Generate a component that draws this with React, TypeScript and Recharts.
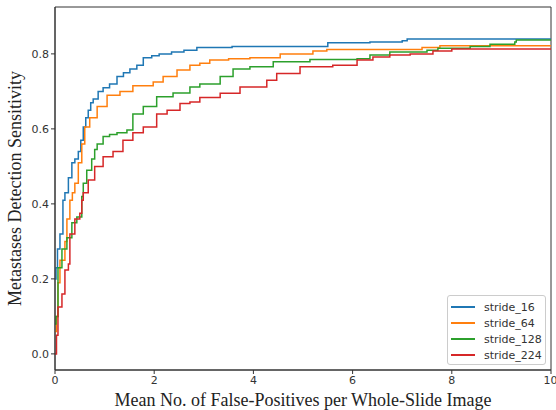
import React from 'react';
import { LineChart, Line, XAxis, YAxis, Label, ReferenceArea } from 'recharts';

const xTicks = [0, 2, 4, 6, 8, 10];
const yTicks = [0, 0.2, 0.4, 0.6, 0.8];
const yDomain = [-0.043, 0.925];

const s16X = [0, 0.02, 0.05, 0.1, 0.16, 0.2, 0.27, 0.34, 0.4, 0.47, 0.52, 0.57, 0.62, 0.67, 0.72, 0.77, 0.87, 0.97, 1.1, 1.25, 1.38, 1.51, 1.65, 1.78, 1.95, 2.1, 2.35, 2.6, 2.86, 3.57, 5.5, 6.35, 7.0, 7.1, 10];
const s16Y = [0.2, 0.23, 0.28, 0.32, 0.41, 0.43, 0.47, 0.51, 0.52, 0.54, 0.57, 0.605, 0.63, 0.65, 0.67, 0.68, 0.7, 0.71, 0.72, 0.74, 0.75, 0.76, 0.77, 0.79, 0.795, 0.8, 0.805, 0.81, 0.817, 0.82, 0.83, 0.832, 0.835, 0.84, 0.84];

const s64X = [0, 0.03, 0.06, 0.1, 0.2, 0.24, 0.3, 0.35, 0.4, 0.47, 0.54, 0.6, 0.7, 0.85, 1.05, 1.31, 1.57, 1.98, 2.18, 2.46, 2.72, 2.92, 3.12, 3.5, 3.93, 4.54, 5.2, 5.48, 7.4, 7.76, 10];
const s64Y = [0.06, 0.1, 0.19, 0.25, 0.3, 0.36, 0.41, 0.43, 0.455, 0.51, 0.56, 0.605, 0.63, 0.66, 0.69, 0.7, 0.715, 0.725, 0.74, 0.757, 0.77, 0.775, 0.784, 0.787, 0.79, 0.8, 0.808, 0.812, 0.817, 0.822, 0.822];

const s128X = [0, 0.02, 0.06, 0.14, 0.24, 0.34, 0.44, 0.54, 0.57, 0.64, 0.74, 0.8, 0.85, 0.97, 1.1, 1.25, 1.45, 1.57, 1.78, 2.05, 2.38, 2.72, 2.92, 3.33, 3.59, 3.93, 4.4, 5.14, 6.09, 6.35, 6.75, 7.5, 7.72, 8.37, 8.77, 9.27, 9.3, 10];
const s128Y = [0.08, 0.1, 0.23, 0.28, 0.31, 0.35, 0.365, 0.42, 0.455, 0.49, 0.52, 0.545, 0.56, 0.58, 0.585, 0.59, 0.597, 0.64, 0.66, 0.686, 0.696, 0.712, 0.72, 0.74, 0.76, 0.766, 0.779, 0.785, 0.787, 0.797, 0.805, 0.81, 0.815, 0.82, 0.826, 0.832, 0.837, 0.837];

const s224X = [0, 0.03, 0.06, 0.14, 0.2, 0.27, 0.3, 0.4, 0.5, 0.54, 0.57, 0.67, 0.8, 0.97, 1.17, 1.37, 1.57, 1.78, 2.05, 2.26, 2.52, 2.72, 2.92, 3.33, 3.73, 4.27, 4.47, 4.94, 5.6, 6.09, 6.41, 6.75, 7.16, 7.62, 8.0, 10];
const s224Y = [0.0, 0.05, 0.125, 0.16, 0.224, 0.24, 0.32, 0.36, 0.375, 0.41, 0.43, 0.464, 0.5, 0.526, 0.54, 0.57, 0.59, 0.605, 0.64, 0.65, 0.668, 0.672, 0.684, 0.695, 0.712, 0.73, 0.748, 0.766, 0.77, 0.784, 0.792, 0.797, 0.8, 0.808, 0.813, 0.813];

const zip = (xs: number[], ys: number[]) => xs.map((x, i) => ({ x, y: ys[i] }));

const series = [
  { name: 'stride_16', color: '#1f77b4', data: zip(s16X, s16Y) },
  { name: 'stride_64', color: '#ff7f0e', data: zip(s64X, s64Y) },
  { name: 'stride_128', color: '#2ca02c', data: zip(s128X, s128Y) },
  { name: 'stride_224', color: '#d62728', data: zip(s224X, s224Y) },
];

const axisColor = '#333';
const tickStyle = { fontSize: 11, fill: '#333', fontFamily: 'DejaVu Sans' };
const serif = '"Liberation Serif", "Times New Roman", serif';

const LegendBox = () => (
  <div style={{
    position: 'absolute', left: 447, top: 295, width: 99, height: 70,
    border: '1px solid #ccc', borderRadius: 3, background: 'rgba(255,255,255,0.8)',
    fontFamily: 'DejaVu Sans', fontSize: 11, color: '#333', boxSizing: 'border-box', padding: '3px 0 0 3px',
  }}>
    {series.map(s => (
      <div key={s.name} style={{ display: 'flex', alignItems: 'center', height: 16 }}>
        <span style={{ display: 'inline-block', width: 24, height: 0, borderTop: `2px solid ${s.color}`, marginRight: 9 }} />
        {s.name}
      </div>
    ))}
  </div>
);

export default function App() {
  return (
    <div style={{ position: 'absolute', left: 0, top: 0, width: 556, height: 410, background: '#fff' }}>
      <LineChart width={556} height={410} margin={{ top: 7, right: 5, bottom: 0, left: 0 }}>
        <XAxis dataKey="x" type="number" domain={[0, 10]} ticks={xTicks} allowDataOverflow
          height={40} stroke={axisColor} tick={tickStyle} tickSize={4} tickLine={{ stroke: axisColor }}>
          <Label value="Mean No. of False-Positives per Whole-Slide Image" position="insideBottom" offset={4}
            style={{ fontSize: 18, fontFamily: serif, fill: '#222' }} />
        </XAxis>
        <YAxis dataKey="y" type="number" domain={yDomain} ticks={yTicks} allowDataOverflow
          width={55} stroke={axisColor} tick={tickStyle} tickSize={4} tickFormatter={(v: number) => v.toFixed(1)}>
          <Label value="Metastases Detection Sensitivity" angle={-90} position="insideLeft" offset={15}
            style={{ fontSize: 18, fontFamily: serif, fill: '#222', textAnchor: 'middle' }} />
        </YAxis>
        <ReferenceArea x1={0} x2={10} y1={yDomain[0]} y2={yDomain[1]} fill="none" stroke={axisColor}
          strokeWidth={1} fillOpacity={0} ifOverflow="visible" />
        {series.map(s => (
          <Line key={s.name} data={s.data} dataKey="y" name={s.name} type="stepAfter" stroke={s.color}
            strokeWidth={1.5} dot={false} isAnimationActive={false} />
        ))}
      </LineChart>
      <LegendBox />
    </div>
  );
}
